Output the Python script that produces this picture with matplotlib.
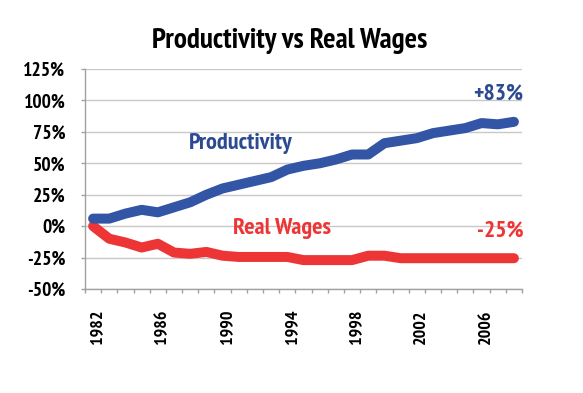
import matplotlib
matplotlib.use("Agg")
import matplotlib.pyplot as plt
import matplotlib.transforms as mtransforms
import numpy as np

FONT = "PT Sans Narrow"
plt.rcParams['font.family'] = [FONT, 'DejaVu Sans']

years = list(range(1982, 2009))
productivity = [6, 6, 10, 13, 11, 15, 19, 25, 30, 33, 36, 39, 45, 48, 50, 53, 57, 57,
                66, 68, 70, 74, 76, 78, 82, 81, 83]
real_wages = [0, -10, -13, -17, -14, -21, -22, -20.5, -23.5, -24.5, -24.5, -24.5, -24.5,
              -27, -27, -27, -27, -23.5, -23.5, -25.5, -25.5, -25.5, -25.5, -25.5, -25.5, -25.5, -25.5]
year_labels = ['1982', '1986', '1990', '1994', '1998', '2002', '2006']
y_ticks = [-50, -25, 0, 25, 50, 75, 100, 125]
end_labels = ['+83%', '-25%']

BLUE = "#3355A6"
BLUE_TXT = "#2C4A92"
RED = "#EE3535"

fig = plt.figure(figsize=(5.83, 3.93), dpi=100)
ax = fig.add_axes([0.1458, 0.2646, 0.7496, 0.5598])

x = np.arange(len(years))
ax.plot(x, real_wages, color=RED, lw=7.2, solid_capstyle='round', solid_joinstyle='round', zorder=3)
ax.plot(x, productivity, color=BLUE, lw=7.2, solid_capstyle='round', solid_joinstyle='round', zorder=4)

ax.set_xlim(-0.5, len(years) - 0.5)
ax.set_ylim(-50, 125)
ax.set_yticks(y_ticks)
ax.set_yticklabels([f"{v}%" for v in y_ticks], fontsize=14, fontweight='bold')
ax.yaxis.grid(True, color='#c8c8c8', lw=1)
ax.set_axisbelow(True)

ax.set_xticks(np.arange(-0.5, len(years), 1.0))
ax.set_xticklabels([])
ax.set_xticks([years.index(int(y)) for y in year_labels], minor=True)
ax.set_xticklabels(year_labels, minor=True, rotation=90, fontsize=13, fontweight='bold')
ax.tick_params(axis='x', which='major', length=3, color='#a0a0a0', width=1)
ax.tick_params(axis='x', which='minor', length=0, pad=15)
ax.tick_params(axis='y', length=3, color='#a0a0a0', width=1, pad=11)
shift = mtransforms.ScaledTranslation(4.5 / 100, 0, fig.dpi_scale_trans)
for lbl in ax.get_xticklabels(minor=True):
    lbl.set_transform(lbl.get_transform() + shift)

for s in ['top', 'right']:
    ax.spines[s].set_visible(False)
for s in ['left', 'bottom']:
    ax.spines[s].set_color('#a0a0a0')
    ax.spines[s].set_linewidth(1)

ax.text(9.1, 66, "Productivity", color=BLUE_TXT, fontsize=17.5, fontweight='bold', ha='center', va='center')
ax.text(11.7, -2, "Real Wages", color=RED, fontsize=17.5, fontweight='bold', ha='center', va='center')
ax.text(26.55, 105, end_labels[0], color=BLUE_TXT, fontsize=17, fontweight='bold', ha='right', va='center')
ax.text(26.6, -4, end_labels[1], color=RED, fontsize=17, fontweight='bold', ha='right', va='center')

fig.text(0.497, 0.895, "Productivity vs Real Wages", fontsize=21, fontweight='bold', ha='center', va='center')

fig.savefig("out.png", dpi=100)
